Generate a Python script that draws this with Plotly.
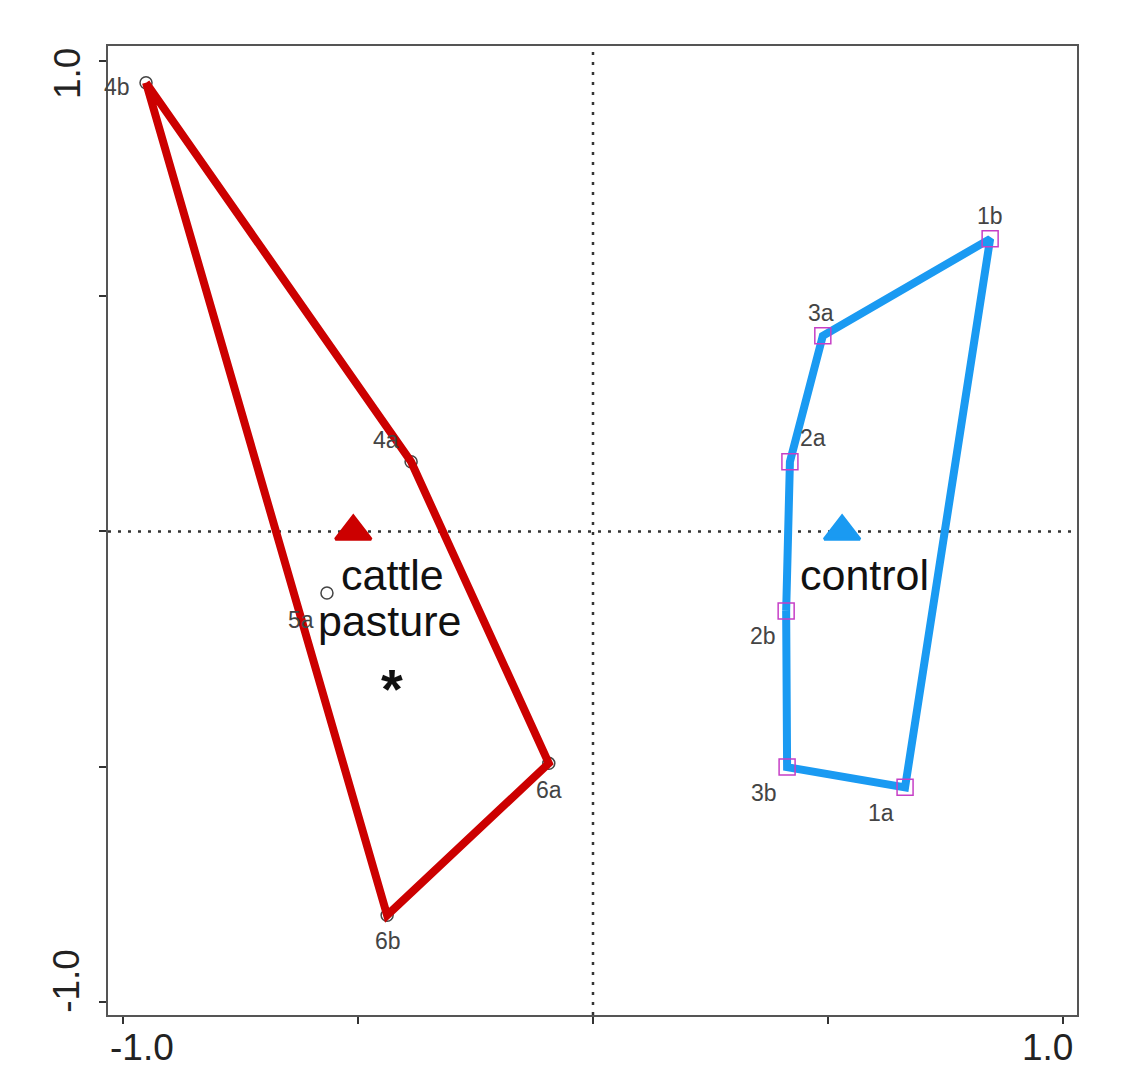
import plotly.graph_objects as go

# ---------------- data ----------------
pasture_labels = ["4b", "4a", "5a", "6a", "6b"]
pasture_x = [-0.951, -0.387, -0.566, -0.094, -0.438]
pasture_y = [0.954, 0.148, -0.131, -0.493, -0.816]

control_labels = ["1b", "3a", "2a", "2b", "3b", "1a"]
control_x = [0.845, 0.489, 0.419, 0.411, 0.413, 0.664]
control_y = [0.622, 0.416, 0.148, -0.169, -0.501, -0.544]

centroid_names = ["cattle pasture", "control"]
centroid_x = [-0.510, 0.530]
centroid_y = [0.0, 0.0]

tick_vals = [-1.0, -0.5, 0.0, 0.5, 1.0]
tick_text = ["-1.0", "", "", "", "1.0"]

# ---------------- styles ----------------
RED = "#CC0000"
BLUE = "#1A9AF2"
MAGENTA = "#C63FC6"
FONT = "Liberation Sans, Arial, sans-serif"

# label offsets in pixels (dx, dy up)
pasture_off = [(-29, -4), (-25, 22), (-26, -27), (0, -27), (1, -26)]
control_off = [(0, 23), (-2, 23), (23, 24), (-23, -25), (-23, -26), (-24, -26)]


def convex_hull(xs, ys):
    pts = sorted(set(zip(xs, ys)))
    if len(pts) <= 2:
        return pts

    def cross(o, a, b):
        return (a[0] - o[0]) * (b[1] - o[1]) - (a[1] - o[1]) * (b[0] - o[0])

    lower = []
    for p in pts:
        while len(lower) >= 2 and cross(lower[-2], lower[-1], p) <= 0:
            lower.pop()
        lower.append(p)
    upper = []
    for p in reversed(pts):
        while len(upper) >= 2 and cross(upper[-2], upper[-1], p) <= 0:
            upper.pop()
        upper.append(p)
    hull = lower[:-1] + upper[:-1]
    hull.append(hull[0])
    return hull


fig = go.Figure()

# reference dotted lines at 0
fig.add_shape(type="line", xref="x", yref="paper", x0=0, x1=0, y0=0, y1=1,
              line=dict(color="#333333", width=2.5, dash="3px,7px"), layer="below")
fig.add_shape(type="line", xref="paper", yref="y", x0=0, x1=1, y0=0, y1=0,
              line=dict(color="#333333", width=2.5, dash="3px,7px"), layer="below")

# pasture points (drawn below the hull line)
fig.add_trace(go.Scatter(x=pasture_x, y=pasture_y, mode="markers",
                         marker=dict(symbol="circle-open", size=12, color="#444444",
                                     line=dict(width=1.5)),
                         hoverinfo="skip", showlegend=False))
ph = convex_hull(pasture_x, pasture_y)
fig.add_trace(go.Scatter(x=[p[0] for p in ph], y=[p[1] for p in ph], mode="lines",
                         line=dict(color=RED, width=8), hoverinfo="skip", showlegend=False))

# control hull + points
ch = convex_hull(control_x, control_y)
fig.add_trace(go.Scatter(x=[p[0] for p in ch], y=[p[1] for p in ch], mode="lines",
                         line=dict(color=BLUE, width=8), hoverinfo="skip", showlegend=False))
fig.add_trace(go.Scatter(x=control_x, y=control_y, mode="markers",
                         marker=dict(symbol="square-open", size=16, color=MAGENTA,
                                     line=dict(width=1.5)),
                         hoverinfo="skip", showlegend=False))

# centroids
fig.add_trace(go.Scatter(x=centroid_x, y=centroid_y, mode="markers",
                         marker=dict(symbol="triangle-up", size=31, color=[RED, BLUE],
                                     line=dict(color=[RED, BLUE], width=3)),
                         hoverinfo="skip", showlegend=False))

# point labels
for labs, xs, ys, offs in [(pasture_labels, pasture_x, pasture_y, pasture_off),
                           (control_labels, control_x, control_y, control_off)]:
    for lab, x, y, (dx, dy) in zip(labs, xs, ys, offs):
        fig.add_annotation(x=x, y=y, text=lab, showarrow=False, xshift=dx, yshift=dy,
                           xanchor="center", yanchor="middle",
                           font=dict(family=FONT, size=23, color="#444444"))

# group labels
big = dict(family=FONT, size=43, color="#111111")
for txt, gi, dx, dy, f in [("cattle", 0, 39, -44, big),
                           ("pasture", 0, 36, -90, big),
                           ("<b>*</b>", 0, 39, -157, dict(family=FONT, size=56, color="#111111")),
                           ("control", 1, 22, -44, big)]:
    fig.add_annotation(x=centroid_x[gi], y=centroid_y[gi], text=txt, showarrow=False,
                       xshift=dx, yshift=dy, xanchor="center", yanchor="middle", font=f)

# axis tick labels (offset like the original)
tfont = dict(family=FONT, size=37, color="#222222")
fig.add_annotation(x=tick_vals[0], y=0, xref="x", yref="paper", text=tick_text[0],
                   showarrow=False, xshift=19, yshift=-32, xanchor="center",
                   yanchor="middle", font=tfont)
fig.add_annotation(x=tick_vals[-1], y=0, xref="x", yref="paper", text=tick_text[-1],
                   showarrow=False, xshift=-15, yshift=-32, xanchor="center",
                   yanchor="middle", font=tfont)
fig.add_annotation(x=0, y=tick_vals[-1], xref="paper", yref="y", text=tick_text[-1],
                   showarrow=False, xshift=-41, yshift=-13, textangle=-90,
                   xanchor="center", yanchor="middle", font=tfont)
fig.add_annotation(x=0, y=tick_vals[0], xref="paper", yref="y", text=tick_text[0],
                   showarrow=False, xshift=-41, yshift=21, textangle=-90,
                   xanchor="center", yanchor="middle", font=tfont)

axis_common = dict(tickvals=tick_vals, showticklabels=False, ticks="outside",
                   ticklen=7, tickwidth=2, tickcolor="#333333",
                   showline=True, mirror=True, linecolor="#555555", linewidth=2,
                   showgrid=False, zeroline=False)

fig.update_layout(
    width=1122, height=1059,
    margin=dict(l=100, r=53, t=38, b=52),
    paper_bgcolor="white", plot_bgcolor="white",
    xaxis=dict(range=[-1.0319, 1.0298], **axis_common),
    yaxis=dict(range=[-1.028, 1.032], **axis_common),
    showlegend=False,
)

fig.write_html("out.html")
